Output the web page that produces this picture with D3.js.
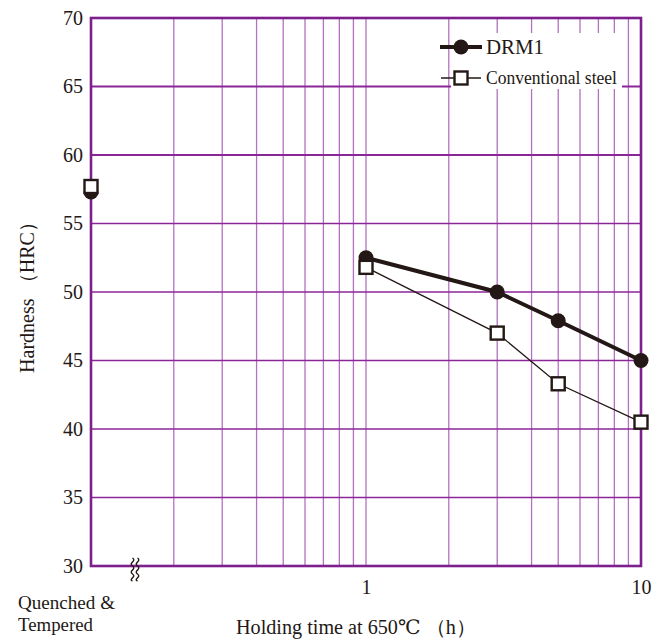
<!DOCTYPE html>
<html>
<head>
<meta charset="utf-8">
<script src="https://cdn.jsdelivr.net/npm/d3@7"></script>
<style>
  body { margin: 0; background: #fff; }
  svg text { font-family: "Liberation Serif", "DejaVu Serif", serif; fill: #231815; }
</style>
</head>
<body>
<svg id="chart"></svg>
<script>
// data
var times = [1, 3, 5, 10];
var drm1 = [52.5, 50.0, 47.9, 45.0];
var conventional = [51.8, 47.0, 43.3, 40.5];
var qtTime = 0.1;           // "Quenched & Tempered" sits on the left edge
var qtDrm1 = 57.3;
var qtConventional = 57.7;
var yTicks = [30, 35, 40, 45, 50, 55, 60, 65, 70];
var xTickLabels = [1, 10];
var xGrid = [0.2, 0.3, 0.4, 0.5, 0.6, 0.7, 0.8, 0.9, 1, 2, 3, 4, 5, 6, 7, 8, 9];

var dimensions = {
    width: 655,
    height: 642,
    margin: { top: 18, bottom: 76, right: 14, left: 91 }
}

var svg = d3.select("#chart")
            .attr("width", dimensions.width)
            .attr("height", dimensions.height)

var xScale = d3.scaleLog()
               .domain([0.1, 10])
               .range([dimensions.margin.left, dimensions.width - dimensions.margin.right])

var yScale = d3.scaleLinear()
               .domain([30, 70])
               .range([dimensions.height - dimensions.margin.bottom, dimensions.margin.top])

var x0 = xScale.range()[0], x1 = xScale.range()[1];
var y0 = yScale.range()[0], y1 = yScale.range()[1];

// vertical grid (lighter)
svg.append("g")
   .selectAll("line")
   .data(xGrid)
   .enter()
   .append("line")
   .attr("x1", function(d){ return xScale(d) })
   .attr("x2", function(d){ return xScale(d) })
   .attr("y1", y1)
   .attr("y2", y0)
   .style("stroke", "#b470c2")
   .style("stroke-width", 1.3)

// horizontal grid (darker)
svg.append("g")
   .selectAll("line")
   .data(yTicks.slice(1, -1))
   .enter()
   .append("line")
   .attr("x1", x0)
   .attr("x2", x1)
   .attr("y1", function(d){ return yScale(d) })
   .attr("y2", function(d){ return yScale(d) })
   .style("stroke", "#8a2698")
   .style("stroke-width", function(d){ return d >= 60 ? 2.2 : 1.5 })

// legend backing box covers grid
svg.append("rect")
   .attr("x", 451).attr("y", 33)
   .attr("width", 171).attr("height", 56)
   .style("fill", "#fff")

// frame
svg.append("rect")
   .attr("x", x0).attr("y", y1)
   .attr("width", x1 - x0).attr("height", y0 - y1)
   .style("fill", "none")
   .style("stroke", "#7e1f8d")
   .style("stroke-width", 2.6)

// axis break mark
var brk = svg.append("g").attr("transform", "translate(" + 135 + "," + y0 + ")");
[-2.5, 2.5].forEach(function(dx){
    brk.append("path")
       .attr("d", "M" + (dx) + ",-8 c4.5,3 -4.5,5 0,8 c4.5,3 -4.5,5 0,8 c4.5,3 -4.5,5 0,7")
       .style("fill", "none")
       .style("stroke", "#231815")
       .style("stroke-width", 1.4)
});

// tick labels
var yAxisGen = d3.axisLeft().scale(yScale).tickValues(yTicks).tickSize(0).tickPadding(8)
var yAxis = svg.append("g")
               .call(yAxisGen)
               .attr("transform", "translate(" + x0 + ",0)")
yAxis.select(".domain").remove();
yAxis.selectAll("text").style("font-size", "20px").style("font-family", "Liberation Serif").attr("fill", "#231815");

var xAxisGen = d3.axisBottom().scale(xScale).tickValues(xTickLabels).tickSize(0).tickPadding(14).tickFormat(d3.format("d"))
var xAxis = svg.append("g")
               .call(xAxisGen)
               .attr("transform", "translate(0," + y0 + ")")
xAxis.select(".domain").remove();
xAxis.selectAll("text").style("font-size", "20px").style("font-family", "Liberation Serif").attr("fill", "#231815");

svg.append("text")
   .attr("x", 18).attr("y", 609)
   .attr("textLength", 97)
   .attr("lengthAdjust", "spacingAndGlyphs")
   .style("font-size", "18px")
   .text("Quenched &");
svg.append("text")
   .attr("x", 18).attr("y", 631)
   .attr("textLength", 75)
   .attr("lengthAdjust", "spacingAndGlyphs")
   .style("font-size", "18px")
   .text("Tempered");

// axis titles
svg.append("text")
   .attr("x", 236).attr("y", 634)
   .attr("textLength", 240)
   .attr("lengthAdjust", "spacingAndGlyphs")
   .style("font-size", "20px")
   .text("Holding time at 650℃ （h）");

svg.append("text")
   .attr("transform", "rotate(-90)")
   .attr("x", -373)
   .attr("y", 34)
   .attr("textLength", 161)
   .attr("lengthAdjust", "spacingAndGlyphs")
   .style("font-size", "20px")
   .text("Hardness （HRC）");

// series lines
var drmData = times.map(function(t, i){ return { t: t, v: drm1[i] } });
var convData = times.map(function(t, i){ return { t: t, v: conventional[i] } });
var lineGen = d3.line().x(function(d){ return xScale(d.t) }).y(function(d){ return yScale(d.v) });

svg.append("path")
   .datum(convData)
   .attr("d", lineGen)
   .style("fill", "none")
   .style("stroke", "#231815")
   .style("stroke-width", 1.3)

svg.append("path")
   .datum(drmData)
   .attr("d", lineGen)
   .style("fill", "none")
   .style("stroke", "#231815")
   .style("stroke-width", 4)

// markers
var sq = 13;
svg.append("g")
   .selectAll("circle")
   .data(drmData.concat([{ t: qtTime, v: qtDrm1 }]))
   .enter()
   .append("circle")
   .attr("cx", function(d){ return xScale(d.t) })
   .attr("cy", function(d){ return yScale(d.v) })
   .attr("r", 7.5)
   .style("fill", "#231815")

svg.append("g")
   .selectAll("rect")
   .data(convData.concat([{ t: qtTime, v: qtConventional }]))
   .enter()
   .append("rect")
   .attr("x", function(d){ return xScale(d.t) - sq / 2 })
   .attr("y", function(d){ return yScale(d.v) - sq / 2 })
   .attr("width", sq)
   .attr("height", sq)
   .style("fill", "#fff")
   .style("stroke", "#231815")
   .style("stroke-width", 2.4)

// legend
var legend = svg.append("g")
legend.append("line")
      .attr("x1", 440).attr("x2", 482).attr("y1", 47).attr("y2", 47)
      .style("stroke", "#231815").style("stroke-width", 4)
legend.append("circle")
      .attr("cx", 461).attr("cy", 47).attr("r", 7.5)
      .style("fill", "#231815")
legend.append("text")
      .attr("x", 486).attr("y", 54)
      .attr("textLength", 58)
      .attr("lengthAdjust", "spacingAndGlyphs")
      .style("font-size", "20px")
      .text("DRM1")
legend.append("line")
      .attr("x1", 441).attr("x2", 481).attr("y1", 78).attr("y2", 78)
      .style("stroke", "#231815").style("stroke-width", 1.3)
legend.append("rect")
      .attr("x", 461 - sq / 2).attr("y", 78 - sq / 2)
      .attr("width", sq).attr("height", sq)
      .style("fill", "#fff").style("stroke", "#231815").style("stroke-width", 2.4)
legend.append("text")
      .attr("x", 486).attr("y", 84)
      .attr("textLength", 131)
      .attr("lengthAdjust", "spacingAndGlyphs")
      .style("font-size", "19px")
      .text("Conventional steel")
</script>
</body>
</html>
